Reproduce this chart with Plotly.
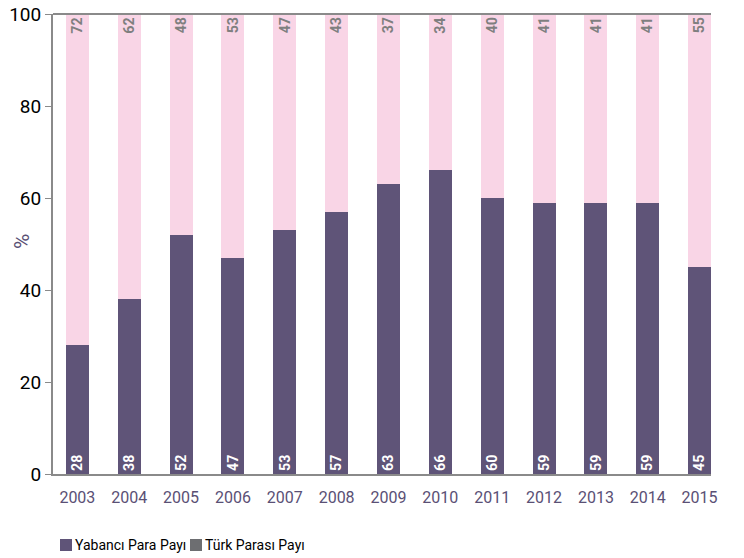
import plotly.graph_objects as go

years = ["2003", "2004", "2005", "2006", "2007", "2008", "2009",
         "2010", "2011", "2012", "2013", "2014", "2015"]
yabanci = [28, 38, 52, 47, 53, 57, 63, 66, 60, 59, 59, 59, 45]
turk = [72, 62, 48, 53, 47, 43, 37, 34, 40, 41, 41, 41, 55]
legend_labels = ["Yabancı Para Payı", "Türk Parası Payı"]
y_title = "%"

PURPLE = "#5f5478"
PINK = "#f9d5e6"
LEGEND_GREY = "#6d6e71"
AXIS_GREY = "#8a8a8a"
LABEL_PURPLE = "#5a5075"
FONT = "Roboto"

W, H = 744, 558
ML, MR, MT, MB = 53, 33, 14, 84
PW, PH = W - ML - MR, H - MT - MB

fig = go.Figure()

fig.add_trace(go.Bar(
    x=years, y=yabanci, name=legend_labels[0],
    marker=dict(color=PURPLE, line=dict(width=0)),
    text=[str(v) for v in yabanci], textposition="inside",
    insidetextanchor="start", textangle=-90,
    textfont=dict(family=FONT, size=15, color="white", weight="bold"),
    showlegend=False,
))
fig.add_trace(go.Bar(
    x=years, y=turk, name=legend_labels[1],
    marker=dict(color=PINK, line=dict(width=0)),
    text=[str(v) for v in turk], textposition="inside",
    insidetextanchor="end", textangle=-90,
    textfont=dict(family=FONT, size=15, color="#7f7f7f", weight="bold"),
    showlegend=False,
))

fig.update_layout(
    width=W, height=H,
    margin=dict(l=ML, r=MR, t=MT, b=MB, autoexpand=False),
    paper_bgcolor="white", plot_bgcolor="white",
    barmode="stack", bargap=0.556,
    font=dict(family=FONT, color="black"),
    showlegend=False,
    xaxis=dict(type="category", range=[-0.47, 12.22], automargin=False,
               showline=True, linecolor=AXIS_GREY, linewidth=2,
               ticks="", showgrid=False, ticklabelstandoff=8,
               tickfont=dict(size=16, color=LABEL_PURPLE, family=FONT)),
    yaxis=dict(range=[0, 100], dtick=20, showgrid=False, automargin=False,
               showline=True, linecolor=AXIS_GREY, linewidth=2,
               ticks="outside", ticklen=6, tickcolor=AXIS_GREY,
               tickfont=dict(size=19, color="black", family=FONT),
               zeroline=False),
)

# y-axis title
fig.add_annotation(text=y_title, xref="paper", yref="paper",
                   x=(22 - ML) / PW, y=(H - MB - 242) / PH,
                   xanchor="center", yanchor="middle", textangle=-90,
                   showarrow=False,
                   font=dict(size=21, color=LABEL_PURPLE, family=FONT))

# top frame line
fig.add_shape(type="line", xref="paper", yref="paper", x0=0, x1=1, y0=1, y1=1,
              line=dict(color=AXIS_GREY, width=2))

# legend: swatch + label pairs below the plot
def px_x(px):
    return (px - ML) / PW

def px_y(py):
    return (H - MB - py) / PH

legend_items = [(legend_labels[0], PURPLE, 60), (legend_labels[1], LEGEND_GREY, 190)]
for label, color, x0 in legend_items:
    fig.add_shape(type="rect", xref="paper", yref="paper",
                  x0=px_x(x0), x1=px_x(x0 + 12), y0=px_y(551), y1=px_y(539),
                  fillcolor=color, line=dict(width=0))
    fig.add_annotation(text=label, xref="paper", yref="paper",
                       x=px_x(x0 + 13), y=px_y(545), xanchor="left", yanchor="middle",
                       showarrow=False,
                       font=dict(size=14, color="black", family=FONT))

fig.write_html("out.html")
